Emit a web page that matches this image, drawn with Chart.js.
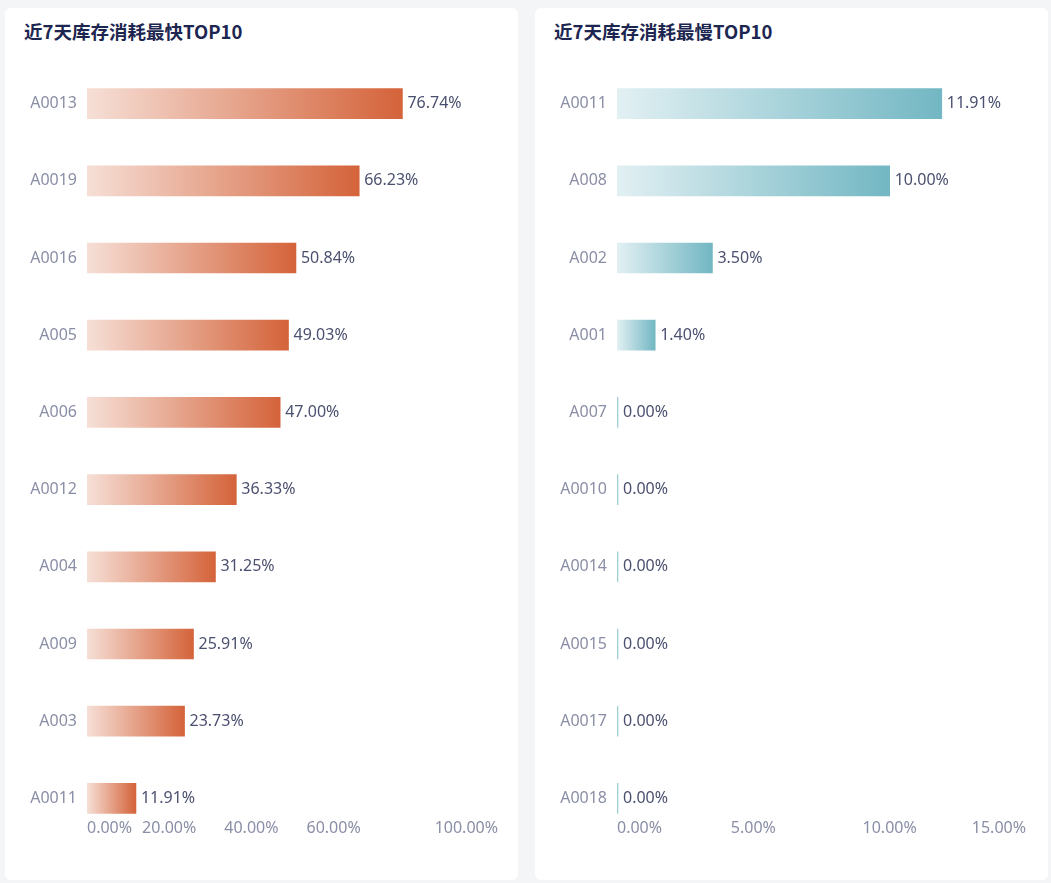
<!DOCTYPE html>
<html>
<head>
<meta charset="utf-8">
<script src="https://cdn.jsdelivr.net/npm/chart.js@4.4.1/dist/chart.umd.min.js"></script>
<style>
  html, body { margin: 0; padding: 0; background: #f4f5f6; width: 1051px; height: 883px; overflow: hidden; }
  .card { position: absolute; top: 8px; width: 513px; height: 872px; background: #fff; border-radius: 6px; }
  .title { position: absolute; left: 19px; top: 10px; font: bold 18.5px "Noto Sans CJK SC", "Noto Sans", sans-serif; color: #1d2650; }
  canvas { position: absolute; left: 0; top: 0; }
</style>
</head>
<body>
<div class="card" style="left:5px"><div class="title">近7天库存消耗最快TOP10</div><canvas id="c1" width="513" height="872"></canvas></div>
<div class="card" style="left:535px"><div class="title">近7天库存消耗最慢TOP10</div><canvas id="c2" width="511" height="872"></canvas></div>
<script>
const fastCategories = ['A0013','A0019','A0016','A005','A006','A0012','A004','A009','A003','A0011'];
const fastValues = [76.74, 66.23, 50.84, 49.03, 47.00, 36.33, 31.25, 25.91, 23.73, 11.91];
const fastTickLabels = {0:'0.00%', 20:'20.00%', 40:'40.00%', 60:'60.00%', 80:'', 100:'100.00%'};

const slowCategories = ['A0011','A008','A002','A001','A007','A0010','A0014','A0015','A0017','A0018'];
const slowValues = [11.91, 10.00, 3.50, 1.40, 0, 0, 0, 0, 0, 0];
const slowTickLabels = {0:'0.00%', 5:'5.00%', 10:'10.00%', 15:'15.00%'};

const FONT = '"Noto Sans", "Noto Sans CJK SC", sans-serif';
const FS = 16;

const valueLabelPlugin = {
  id: 'valueLabels',
  afterDatasetsDraw(chart) {
    const ctx = chart.ctx;
    const meta = chart.getDatasetMeta(0);
    const data = chart.data.datasets[0].data;
    ctx.save();
    ctx.font = FS + 'px ' + FONT;
    ctx.fillStyle = '#4b5070';
    ctx.textAlign = 'left';
    ctx.textBaseline = 'middle';
    meta.data.forEach((el, i) => {
      ctx.fillText(data[i].toFixed(2) + '%', el.x + 5, el.y);
    });
    ctx.restore();
  }
};

function makeChart(id, cats, vals, maxV, step, tickLabels, c0, c1, zeroColor) {
  return new Chart(document.getElementById(id), {
    type: 'bar',
    data: {
      labels: cats,
      datasets: [{
        data: vals,
        barThickness: 30,
        minBarLength: 1,
        backgroundColor(context) {
          const chart = context.chart;
          const xs = chart.scales && chart.scales.x;
          const v = context.raw;
          if (!v) return zeroColor;
          if (!xs || !chart.chartArea) return c1;
          const x0 = xs.getPixelForValue(0);
          const x1 = xs.getPixelForValue(v);
          const g = chart.ctx.createLinearGradient(x0, 0, x1, 0);
          g.addColorStop(0, c0);
          g.addColorStop(1, c1);
          return g;
        }
      }]
    },
    options: {
      indexAxis: 'y',
      responsive: false,
      animation: false,
      events: [],
      layout: { padding: { top: 57, right: 20, bottom: 0, left: 0 } },
      plugins: { legend: { display: false }, tooltip: { enabled: false } },
      scales: {
        x: {
          min: 0, max: maxV,
          grid: { display: false, drawTicks: false },
          border: { display: false },
          afterFit(scale) { scale.height = 43; },
          ticks: {
            stepSize: step,
            align: 'inner',
            mirror: true,
            padding: -1,
            maxRotation: 0,
            autoSkip: false,
            color: '#8a8ea6',
            font: { size: FS, family: FONT },
            callback(value) { return tickLabels[value]; }
          }
        },
        y: {
          grid: { display: false, drawTicks: false },
          border: { display: false },
          afterFit(scale) { scale.width = 82; },
          ticks: {
            padding: 10,
            color: '#8a8ea6',
            font: { size: FS, family: FONT }
          }
        }
      }
    },
    plugins: [valueLabelPlugin]
  });
}

makeChart('c1', fastCategories, fastValues, 100, 20, fastTickLabels, '#f6dfd6', '#d4633a', '#d4633a');
makeChart('c2', slowCategories, slowValues, 15, 5, slowTickLabels, '#e2f0f3', '#72b7c3', '#a3cfd6');
</script>
</body>
</html>
